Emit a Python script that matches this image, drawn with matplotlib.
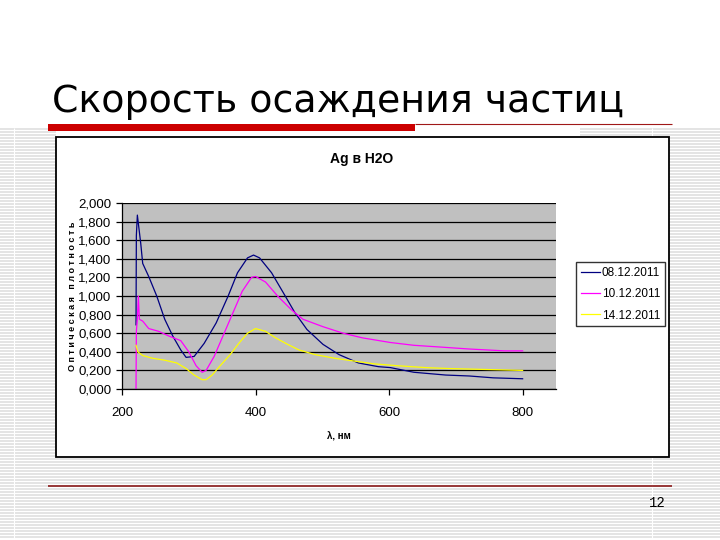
import numpy as np
import matplotlib
matplotlib.use('Agg')
import matplotlib.pyplot as plt
from matplotlib.patches import Rectangle
from matplotlib.ticker import FuncFormatter, MultipleLocator

# spectra, wavelength in nm
labels = ['08.12.2011', '10.12.2011', '14.12.2011']
colors = ['#000080', '#ff00ff', '#ffff00']

x_0812 = [221, 221.5, 223, 228, 231, 240, 252, 264, 276, 288, 296, 308, 323, 341,
          359, 373, 388, 397, 406, 424, 442, 459, 477, 501, 525, 554, 584, 602,
          637, 685, 720, 756, 800]
y_0812 = [0.69, 1.65, 1.87, 1.57, 1.35, 1.21, 1.00, 0.75, 0.57, 0.42, 0.34, 0.35,
          0.49, 0.71, 1.00, 1.25, 1.41, 1.44, 1.41, 1.25, 1.03, 0.82, 0.64, 0.48,
          0.37, 0.28, 0.24, 0.23, 0.18, 0.15, 0.14, 0.12, 0.11]

x_1012 = [221, 221.5, 223, 224.5, 226, 231, 240, 255, 270, 288, 300, 311, 320, 326,
          338, 353, 368, 380, 394, 400, 415, 433, 454, 471, 501, 531, 560, 602,
          637, 679, 720, 773, 800]
y_1012 = [0.0, 0.62, 0.75, 1.0, 0.75, 0.73, 0.65, 0.62, 0.57, 0.52, 0.40, 0.25,
          0.18, 0.20, 0.35, 0.60, 0.85, 1.05, 1.20, 1.21, 1.15, 1.00, 0.85, 0.75,
          0.67, 0.60, 0.55, 0.50, 0.47, 0.45, 0.43, 0.41, 0.41]

x_1412 = [221, 223.7, 231, 246, 264, 282, 296, 308, 320, 326, 335, 347, 362, 376,
          388, 400, 415, 430, 448, 465, 489, 519, 548, 578, 613, 655, 690, 744, 800]
y_1412 = [0.47, 0.40, 0.36, 0.33, 0.31, 0.28, 0.22, 0.15, 0.10, 0.10, 0.15, 0.25,
          0.37, 0.50, 0.60, 0.65, 0.62, 0.55, 0.48, 0.42, 0.37, 0.33, 0.30, 0.27,
          0.25, 0.23, 0.22, 0.21, 0.20]

series = [(x_0812, y_0812), (x_1012, y_1012), (x_1412, y_1412)]

W, H = 720, 540
fig = plt.figure(figsize=(7.2, 5.4), dpi=100)

# slide background, pixel coordinates
bg = fig.add_axes([0, 0, 1, 1])
bg.set_xlim(0, W)
bg.set_ylim(H, 0)
bg.axis('off')

bg.hlines(np.arange(129, H, 3), 0, W, color='#dcdcdc', lw=1.1, zorder=1)
bg.vlines([14, 652], 128, H, color='white', lw=0.8, zorder=1.5)
bg.add_patch(Rectangle((56, 126), 524, 11, fc='white', ec='none', zorder=2))

bg.text(52, 112, 'Скорость осаждения частиц', fontsize=27.3,
        family='DejaVu Sans', va='baseline', ha='left', zorder=5)
bg.add_patch(Rectangle((48, 124), 367, 7, fc='#cc0000', ec='none', zorder=3))
bg.hlines(123.5, 415, 672, color='#a01818', lw=0.8, zorder=3)
bg.hlines(486, 48, 672, color='#8b1a1a', lw=1.2, zorder=3)
bg.text(657, 503, '12', fontsize=10, family='Liberation Mono',
        ha='center', va='center', zorder=5)

# embedded chart
bg.add_patch(Rectangle((56, 137), 613, 320, fc='white', ec='black', lw=1.3, zorder=3))
bg.text(362, 159, 'Ag в H2O', fontsize=10, fontweight='bold',
        family='Liberation Sans', ha='center', va='center', zorder=5)

ax = fig.add_axes([122 / W, 1 - 389 / H, (556 - 122) / W, (389 - 203) / H])
ax.set_facecolor('#c0c0c0')
for (xs, ys), c, lab in zip(series, colors, labels):
    ax.plot(xs, ys, color=c, lw=0.9, label=lab)

ax.set_xlim(200, 850)
ax.set_ylim(0, 2.0)
ax.set_xticks([200, 400, 600, 800])
ax.yaxis.set_major_locator(MultipleLocator(0.2))
ax.yaxis.set_major_formatter(FuncFormatter(lambda v, p: f'{v:.3f}'.replace('.', ',')))
ax.grid(axis='y', color='black', lw=0.9)
ax.set_axisbelow(True)
ax.yaxis.get_gridlines()[-1].set_visible(False)
for s in ['top', 'right']:
    ax.spines[s].set_visible(False)
for s in ['left', 'bottom']:
    ax.spines[s].set_linewidth(0.9)
ax.tick_params(direction='out', length=4, width=0.9, labelsize=9.5)
ax.tick_params(axis='x', pad=9)
for t in ax.get_xticklabels() + ax.get_yticklabels():
    t.set_family('Liberation Sans')

ax.set_xlabel('λ, нм', fontsize=7, fontweight='bold', family='Liberation Sans')
ax.xaxis.set_label_coords(0.5, -0.23)
ax.text(-0.115, 0.5, ' '.join('Оптическая плотность'), transform=ax.transAxes,
        rotation=90, fontsize=6.5, fontweight='bold', family='Liberation Sans',
        ha='center', va='center')

leg = fig.legend(loc='upper left', bbox_to_anchor=(576 / W, 1 - 262 / H),
                 borderaxespad=0, frameon=True, fancybox=False,
                 handlelength=1.6, handletextpad=0.2, labelspacing=0.8,
                 borderpad=0.4, prop={'family': 'Liberation Sans', 'size': 8.5})
leg.get_frame().set_edgecolor('black')
leg.get_frame().set_linewidth(1.0)

plt.savefig('out.png', dpi=100)
